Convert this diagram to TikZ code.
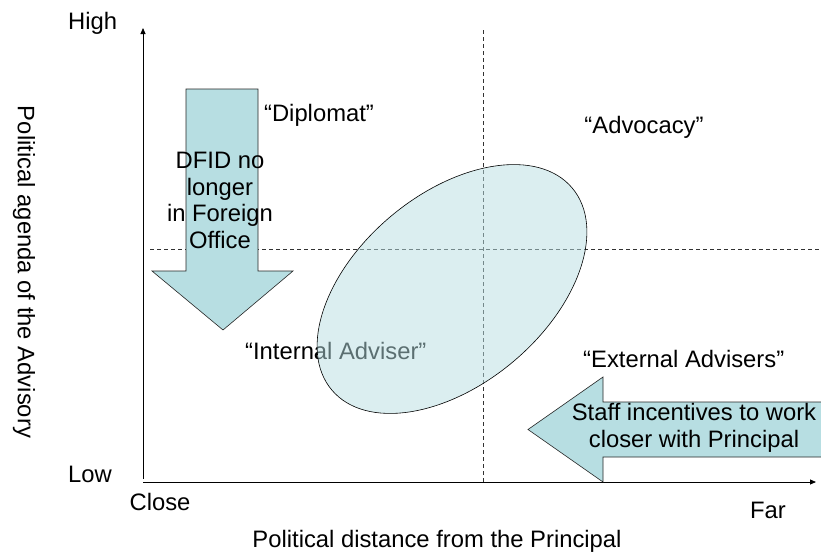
\documentclass[tikz,border=0pt]{standalone}
\usepackage{fontspec}
\setmainfont{Liberation Sans}
\usetikzlibrary{arrows.meta,shapes.geometric}
\definecolor{shifteal}{RGB}{183,222,226}
\definecolor{guidegray}{RGB}{50,50,50}

\begin{document}
\begin{tikzpicture}[
  x=1pt, y=-1pt,
  txt/.style={
    inner sep=0pt,
    anchor=base,
    font=\fontsize{23.8}{27}\selectfont
  },
  multi/.style={
    txt,
    align=center,
    font=\fontsize{23.8}{26.5}\selectfont
  },
  axis/.style={-{Triangle[length=6pt, width=5pt]}, line width=0.8pt, draw=black},
  guide/.style={dash pattern=on 4pt off 3pt, line width=0.6pt, draw=guidegray},
  fatarrow/.style={draw=black!85, fill=shifteal, line width=0.6pt},
  zone/.style={
    ellipse,
    draw=black,
    fill=shifteal,
    fill opacity=0.5,
    line width=0.6pt,
    inner sep=0pt,
    minimum width=314pt,
    minimum height=190pt
  }
]
\clip (0,0) rectangle (821,554);

% Quadrant guides
\coordinate (vtop) at (483,30);
\coordinate (vbot) at (483,482);
\coordinate (hleft) at (150,249);
\coordinate (hright) at (821,249);
\draw[guide] (vtop) -- (vbot);
\draw[guide] (hleft) -- (hright);

% Axes
\coordinate (ybot) at (143,479);
\coordinate (ytop) at (143,28);
\coordinate (xleft) at (143,482);
\coordinate (xright) at (816,482);
\draw[axis] (ybot) -- (ytop);
\draw[axis] (xleft) -- (xright);

% Axis labels
\node[txt, anchor=base west] (high) at (68,29) {High};
\node[txt, anchor=base west] (low) at (68,482) {Low};
\node[txt] (close) at (160,510) {Close};
\node[txt] (far) at (768,518) {Far};
\node[txt] (xlab) at (437,547) {Political distance from the Principal};
\node[txt, anchor=center, rotate=-90] (ylab) at (24,272) {Political agenda of the Advisory};

% Shift towards low agenda
\draw[fatarrow] (186,89) -- (258,89) -- (258,271) -- (293,271) -- (223,330)
  -- (152,271) -- (186,271) -- cycle;
\node[multi] (dfid) at (220,248) {DFID no\\longer\\in Foreign\\Office};

% Shift towards the principal
\draw[fatarrow] (840,402) -- (603,402) -- (603,377) -- (528,429.5) -- (603,482)
  -- (603,457) -- (840,457) -- cycle;
\node[multi, font=\fontsize{23.8}{27}\selectfont] (staff) at (694,447) {Staff incentives to work\\closer with Principal};

% Quadrant names
\node[txt] (diplomat) at (319,121) {``Diplomat''};
\node[txt] (advocacy) at (644,133) {``Advocacy''};
\node[txt, anchor=base west] (internal) at (245,359) {``Internal Adviser''};
\node[txt, anchor=base west] (external) at (583,367) {``External Advisers''};

% Current position
\node[zone, rotate=40] (pos) at (452,289) {};

\end{tikzpicture}
\end{document}
